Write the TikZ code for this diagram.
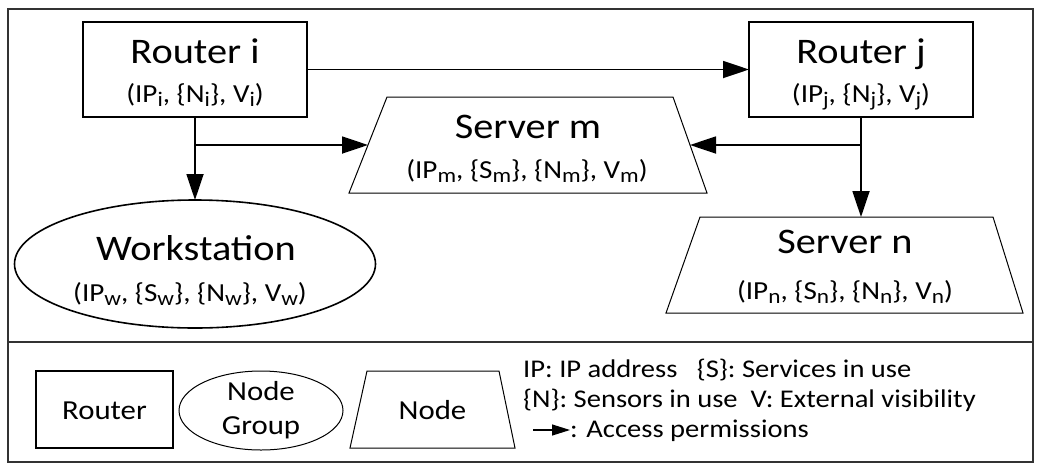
\documentclass[tikz,border=0pt]{standalone}
\usepackage{fontspec}
\setmainfont{Carlito}[FakeStretch=1.12]
\usepackage{graphicx}
\usetikzlibrary{shapes.geometric,arrows.meta}
\newcommand\sbs[1]{\raisebox{-0.18em}{\scalebox{0.8}{#1}}}
\tikzset{
 titletext/.style={anchor=base, inner sep=0pt, font=\fontsize{36}{40}\selectfont},
 subtext/.style={anchor=base, inner sep=0pt, font=\fontsize{26}{30}\selectfont},
 legtext/.style={anchor=base, inner sep=0pt, font=\fontsize{25.5}{28}\selectfont},
 leglabel/.style={anchor=base, inner sep=0pt, font=\fontsize{27.5}{30}\selectfont},
 routerbox/.style={draw, line width=1.4pt, inner sep=0pt, outer sep=0pt},
 boxarea/.style={inner sep=0pt, outer sep=0pt},
 trapline/.style={line width=1pt, line join=miter},
 groupell/.style={ellipse, draw, line width=1.6pt, inner sep=0pt, outer sep=0pt},
 conn/.style={line width=1.8pt, -{Triangle[length=26pt,width=17pt]}},
 legconn/.style={line width=1.2pt, -{Triangle[length=18pt,width=11pt]}},
 frameline/.style={draw=black!80, line width=1.2pt},
}
\begin{document}
\begin{tikzpicture}[x=1pt,y=-1pt]
\useasboundingbox (0,0) rectangle (1041,472);
% frame
\draw[frameline] (8,9) rectangle (1033,462);
\draw[frameline] (8,342) -- (1033,342);

% main shapes
\node[routerbox, minimum width=224pt, minimum height=95pt] (ri) at (195,69.5) {};
\node[routerbox, minimum width=224pt, minimum height=95pt] (rj) at (861,69.5) {};
\node[boxarea, minimum width=358pt, minimum height=96pt] (sm) at (528,145) {};
\draw[trapline] ([xshift=38pt]sm.north west) -- ([xshift=-34pt]sm.north east)
   -- (sm.south east) -- (sm.south west) -- cycle;
\node[boxarea, minimum width=357pt, minimum height=96pt] (sn) at (844.5,265) {};
\draw[trapline] ([xshift=34pt]sn.north west) -- ([xshift=-30pt]sn.north east)
   -- (sn.south east) -- (sn.south west) -- cycle;
\node[groupell, minimum width=361pt, minimum height=128pt] (ws) at (195,264) {};

% texts
\node[titletext] (tri) at (195,63) {Router i};
\node[subtext] (sri) at (195,102) {(IP\sbs{i}, \{N\sbs{i}\}, V\sbs{i})};
\node[titletext] (trj) at (861,63) {Router j};
\node[subtext] (srj) at (861,102) {(IP\sbs{j}, \{N\sbs{j}\}, V\sbs{j})};
\node[titletext] (tsm) at (528,138) {Server m};
\node[subtext] (ssm) at (527,178) {(IP\sbs{m}, \{S\sbs{m}\}, \{N\sbs{m}\}, V\sbs{m})};
\node[titletext] (tsn) at (845,253) {Server n};
\node[subtext] (ssn) at (845,299) {(IP\sbs{n}, \{S\sbs{n}\}, \{N\sbs{n}\}, V\sbs{n})};
\node[titletext] (tws) at (196,260) {Workstation};
\node[subtext] (sws) at (190,301) {(IP\sbs{w}, \{S\sbs{w}\}, \{N\sbs{w}\}, V\sbs{w})};

% connectors
\draw[conn] (ri) -- (rj);
\draw[conn] (ri.south) -- (ws.north);
\coordinate (ja) at (ri.south |- sm.center);
\draw[conn] (ja) -- ([xshift=19pt]sm.west);
\draw[conn] (rj.south) -- (rj.south |- sn.north);
\coordinate (jb) at (rj.south |- sm.center);
\draw[conn] (jb) -- ([xshift=-17pt]sm.east);

% legend
\node[routerbox, line width=1.2pt, minimum width=137pt, minimum height=77pt] (lr) at (104.5,409.5) {};
\node[groupell, line width=1pt, minimum width=164pt, minimum height=79pt] (lg) at (261,410.5) {};
\node[boxarea, minimum width=165pt, minimum height=77pt] (ln) at (432.5,409.5) {};
\draw[trapline] ([xshift=17pt]ln.north west) -- ([xshift=-16pt]ln.north east)
   -- (ln.south east) -- (ln.south west) -- cycle;
\node[leglabel] (lrt) at (104.5,419) {Router};
\node[leglabel] (lgt1) at (261,400) {Node};
\node[leglabel] (lgt2) at (261,434) {Group};
\node[leglabel] (lnt) at (432.5,419) {Node};

\node[legtext, anchor=base west] (l1) at (523,377) {IP: IP address~~~\{S\}: Services in use};
\node[legtext, anchor=base west] (l2) at (523,407) {\{N\}: Sensors in use~~V: External visibility};
\coordinate (la) at (533,430);
\coordinate (lb) at (570,430);
\draw[legconn] (la) -- (lb);
\node[legtext, anchor=base west] (l3) at (570,437) {: Access permissions};
\end{tikzpicture}
\end{document}
